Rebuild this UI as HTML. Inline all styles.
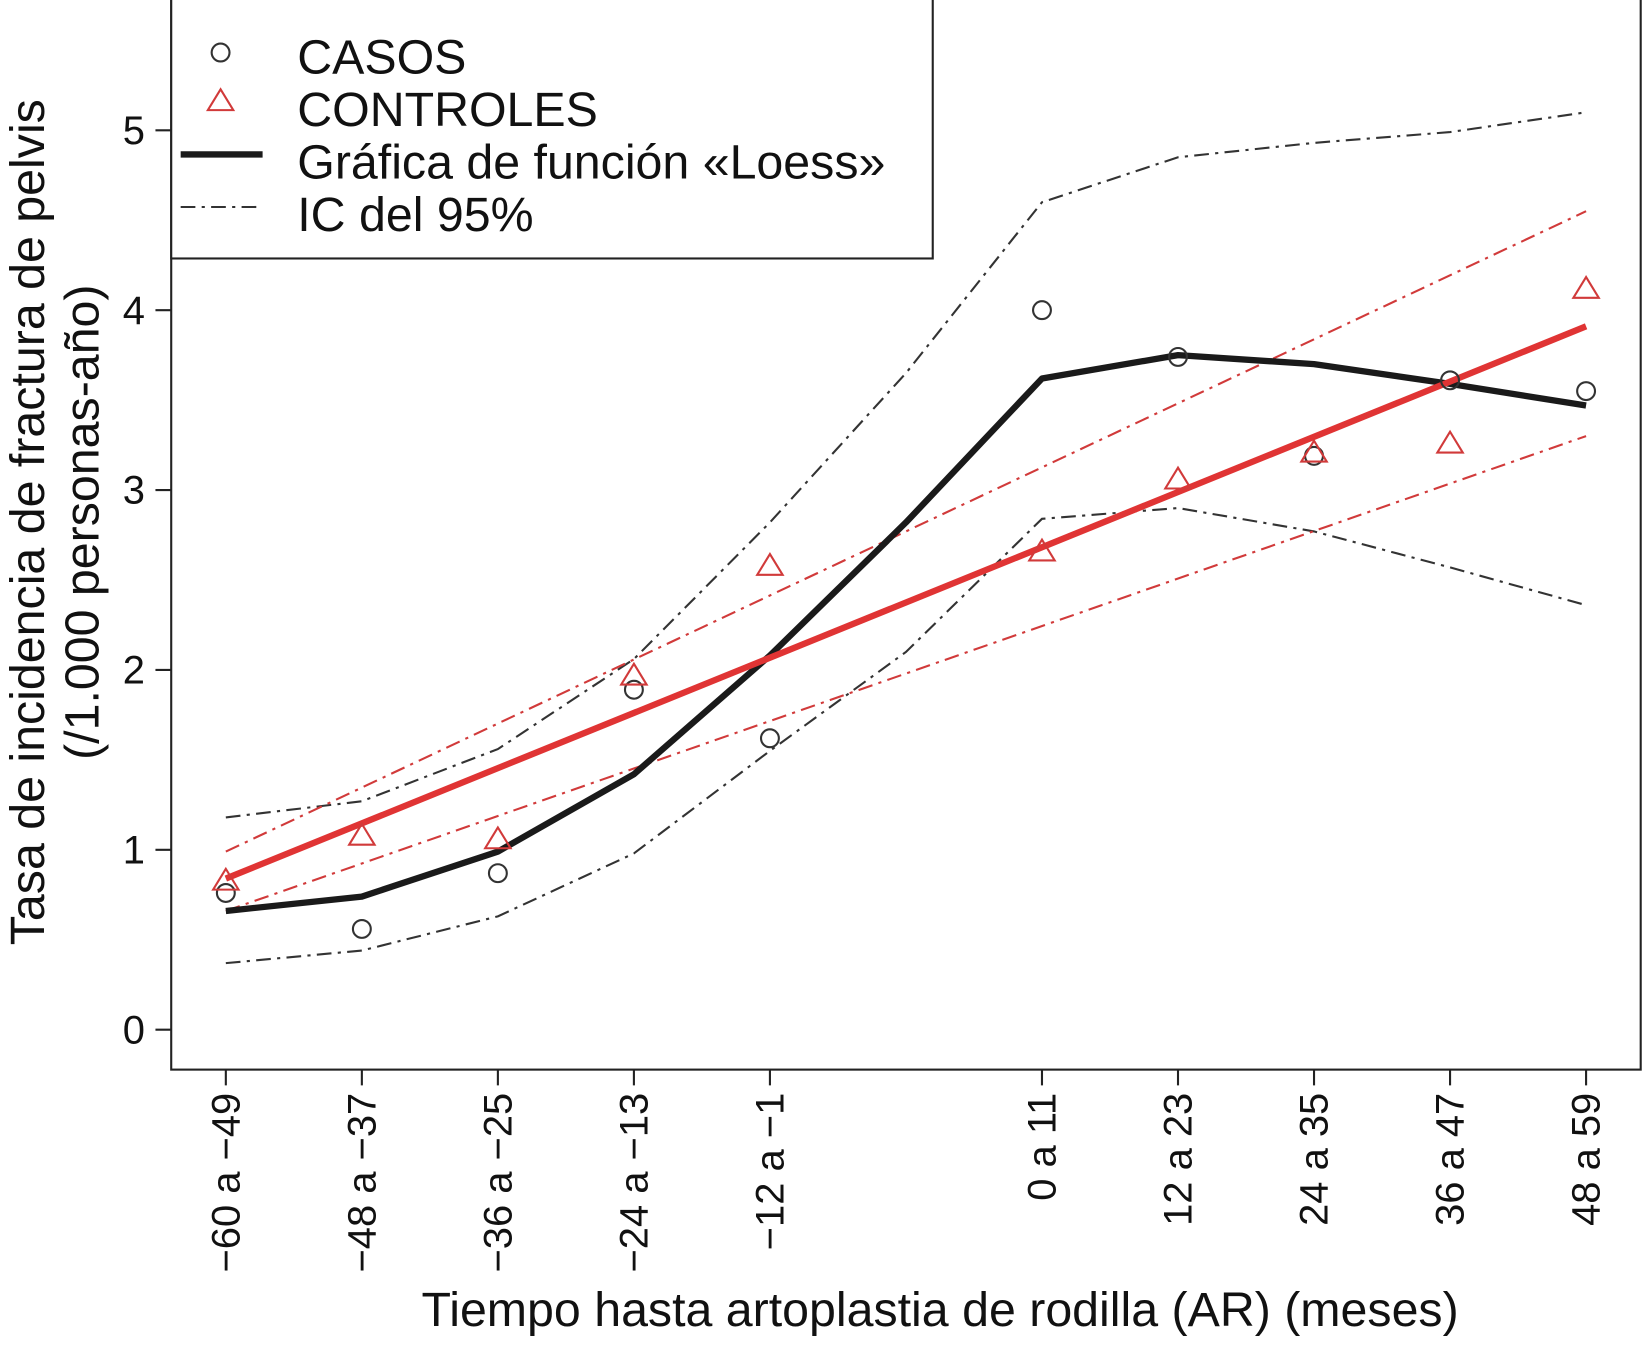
<!DOCTYPE html>
<html><head><meta charset="utf-8"><style>
html,body{margin:0;padding:0;background:#fff;}
svg{display:block;font-family:"Liberation Sans",Arial,sans-serif;}
</style></head><body>
<svg id="chart" width="1647" height="1347" viewBox="0 0 1568 1282" preserveAspectRatio="none" xmlns="http://www.w3.org/2000/svg"></svg>
<script>
const categories = ["−60 a −49","−48 a −37","−36 a −25","−24 a −13","−12 a −1","","0 a 11","12 a 23","24 a 35","36 a 47","48 a 59"];
const casosIdx = [0,1,2,3,4,6,7,8,9,10];
const casos = [0.76,0.56,0.87,1.89,1.62,4.0,3.74,3.19,3.61,3.55];
const controles = [0.83,1.08,1.06,1.97,2.58,2.66,3.06,3.21,3.26,4.12];
const loess = [0.66,0.74,0.99,1.42,2.08,2.82,3.62,3.75,3.70,3.59,3.47];
const loessUpper = [1.18,1.27,1.56,2.06,2.82,3.65,4.60,4.85,4.93,4.99,5.10];
const loessLower = [0.37,0.44,0.63,0.98,1.55,2.10,2.84,2.90,2.77,2.57,2.36];
const redFit = [0.84,3.91];
const redUpper = [0.99,4.55];
const redLower = [0.66,3.30];
const yTicks = [0,1,2,3,4,5];

const svg = document.getElementById('chart');
const NS = 'http://www.w3.org/2000/svg';
const X0 = 215, DX = 129.5, Y0 = 980, DY = 171.2;
const xs = i => X0 + i * DX;
const ys = v => Y0 - v * DY;
function mk(tag, attrs, parent) {
  const e = document.createElementNS(NS, tag);
  for (const k in attrs) e.setAttribute(k, attrs[k]);
  (parent || svg).appendChild(e);
  return e;
}
const frame = mk('rect', {x:163, y:-2, width:1399, height:1020, fill:'none', stroke:'#222', 'stroke-width':2});


yTicks.forEach(v => {
  const t = mk('line', {x1:148, x2:163, y1:ys(v), y2:ys(v), stroke:'#222', 'stroke-width':2});
  
  
  const l = mk('text', {x:138, y:ys(v)+13, 'text-anchor':'end', 'font-size':38, fill:'#111'});
  l.textContent = v;
  
  
});
categories.forEach((c, i) => {
  if (!c) return;
  const t = mk('line', {x1:xs(i), x2:xs(i), y1:1018, y2:1033, stroke:'#222', 'stroke-width':2});
  
  
  const l = mk('text', {x:0, y:0, 'text-anchor':'end', 'font-size':38, fill:'#111', transform:`translate(${xs(i)+13},1040) rotate(-90)`});
  l.textContent = c;
  
  
});
const xt = mk('text', {x:895, y:1262, 'text-anchor':'middle', 'font-size':46, fill:'#111'});
xt.textContent = 'Tiempo hasta artoplastia de rodilla (AR) (meses)';


const yt = mk('text', {'text-anchor':'middle', 'font-size':46, fill:'#111', transform:'translate(42,497) rotate(-90)'});


const t1 = mk('tspan', {x:0, y:0}, yt); t1.textContent = 'Tasa de incidencia de fractura de pelvis';
const t2 = mk('tspan', {x:0, y:52}, yt); t2.textContent = '(/1.000 personas-año)';

function poly(idx, vals, attrs, name) {
  const pts = vals.map((v, k) => xs(idx[k]) + ',' + ys(v)).join(' ');
  const p = mk('polyline', Object.assign({points:pts, fill:'none'}, attrs));
  
  
}
const all = categories.map((c, i) => i);
const ends = [0, 10];
const dash = '14,6,3,6';
poly(all, loessUpper, {stroke:'#333', 'stroke-width':2, 'stroke-dasharray':dash}, 'loess-ci-upper');
poly(all, loessLower, {stroke:'#333', 'stroke-width':2, 'stroke-dasharray':dash}, 'loess-ci-lower');
poly(ends, redUpper, {stroke:'#d13a3a', 'stroke-width':2, 'stroke-dasharray':dash}, 'controls-ci-upper');
poly(ends, redLower, {stroke:'#d13a3a', 'stroke-width':2, 'stroke-dasharray':dash}, 'controls-ci-lower');
poly(all, loess, {stroke:'#1a1a1a', 'stroke-width':6, 'stroke-linejoin':'round'}, 'loess-line');
poly(ends, redFit, {stroke:'#e03434', 'stroke-width':6}, 'controls-fit-line');

casos.forEach((v, k) => {
  const c = mk('circle', {cx:xs(casosIdx[k]), cy:ys(v), r:8.5, fill:'none', stroke:'#333', 'stroke-width':2});
  
  
});
function tri(x, y, s) {
  return `${x},${y-s} ${x-s*1.1},${y+s*0.8} ${x+s*1.1},${y+s*0.8}`;
}
controles.forEach((v, k) => {
  const t = mk('polygon', {points:tri(xs(casosIdx[k]), ys(v), 11), fill:'none', stroke:'#d13a3a', 'stroke-width':2});
  
  
});

const lg = mk('g', {});


mk('rect', {x:163, y:-2, width:725, height:248, fill:'#fff', stroke:'#222', 'stroke-width':2}, lg);
mk('circle', {cx:210, cy:50, r:8.5, fill:'none', stroke:'#333', 'stroke-width':2}, lg);
mk('polygon', {points:tri(210, 96, 11), fill:'none', stroke:'#d13a3a', 'stroke-width':2}, lg);
mk('line', {x1:172, x2:250, y1:147, y2:147, stroke:'#1a1a1a', 'stroke-width':6}, lg);
mk('line', {x1:172, x2:250, y1:197, y2:197, stroke:'#333', 'stroke-width':2, 'stroke-dasharray':dash}, lg);
const labels = ['CASOS','CONTROLES','Gráfica de función «Loess»','IC del 95%'];
labels.forEach((s, i) => {
  const t = mk('text', {x:283, y:70 + i*50, 'font-size':46, fill:'#111'}, lg);
  t.textContent = s;
  
  
});
</script>
</body></html>
